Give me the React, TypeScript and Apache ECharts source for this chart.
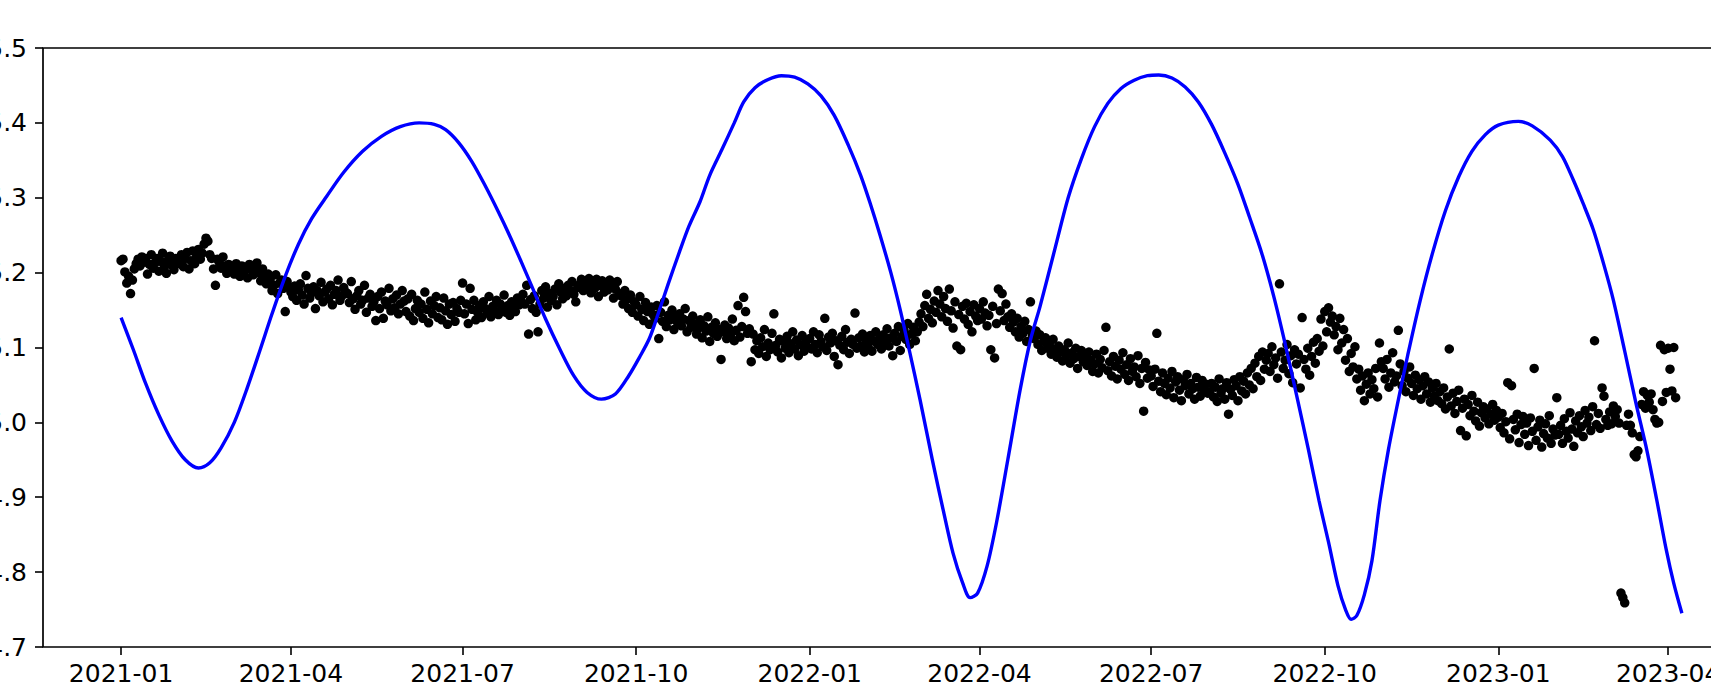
import React, { useEffect, useRef } from "react";
import * as echarts from "echarts";

// Days are counted from 2021-01-01 (day 0). Observations are daily.
const vals2021 = [
  // Jan
  5.216, 5.218, 5.201, 5.186, 5.195, 5.172, 5.19, 5.205, 5.212, 5.218, 5.209, 5.221, 5.214, 5.219, 5.198, 5.211, 5.224, 5.206, 5.213, 5.219, 5.202, 5.215, 5.226, 5.208, 5.199, 5.217, 5.222, 5.21, 5.204, 5.219, 5.213,
  // Feb
  5.212, 5.224, 5.208, 5.219, 5.227, 5.205, 5.216, 5.229, 5.212, 5.221, 5.231, 5.218, 5.226, 5.238, 5.246, 5.242, 5.224, 5.219, 5.205, 5.183, 5.218, 5.214, 5.206, 5.221, 5.209, 5.199, 5.211, 5.204,
  // Mar
  5.207, 5.198, 5.212, 5.203, 5.195, 5.209, 5.201, 5.206, 5.193, 5.211, 5.204, 5.197, 5.207, 5.213, 5.2, 5.189, 5.205, 5.196, 5.185, 5.198, 5.191, 5.176, 5.183, 5.197, 5.172, 5.186, 5.19, 5.179, 5.148, 5.188, 5.181,
  // Apr
  5.174, 5.168, 5.182, 5.163, 5.177, 5.185, 5.17, 5.158, 5.196, 5.179, 5.166, 5.173, 5.181, 5.152, 5.176, 5.169, 5.187, 5.161, 5.174, 5.178, 5.165, 5.183, 5.157, 5.171, 5.176, 5.19, 5.163, 5.169, 5.18, 5.174,
  // May
  5.172, 5.16, 5.188, 5.165, 5.151, 5.169, 5.176, 5.158, 5.163, 5.183, 5.147, 5.166, 5.171, 5.155, 5.161, 5.136, 5.168, 5.152, 5.174, 5.139, 5.162, 5.157, 5.179, 5.149, 5.165, 5.153, 5.17, 5.145, 5.158, 5.176, 5.162,
  // Jun
  5.148, 5.165, 5.142, 5.171, 5.136, 5.152, 5.163, 5.147, 5.158, 5.139, 5.174, 5.151, 5.133, 5.162, 5.145, 5.156, 5.168, 5.14, 5.153, 5.137, 5.166, 5.149, 5.131, 5.158, 5.144, 5.16, 5.135, 5.152, 5.147, 5.163,
  // Jul
  5.186, 5.145, 5.158, 5.132, 5.179, 5.151, 5.163, 5.137, 5.147, 5.156, 5.14, 5.161, 5.152, 5.146, 5.168, 5.141, 5.155, 5.149, 5.163, 5.144, 5.158, 5.151, 5.17, 5.147, 5.156, 5.143, 5.161, 5.153, 5.148, 5.166, 5.157,
  // Aug
  5.162, 5.171, 5.158, 5.183, 5.118, 5.164, 5.152, 5.169, 5.147, 5.121, 5.158, 5.176, 5.166, 5.181, 5.154, 5.172, 5.163, 5.168, 5.178, 5.157, 5.185, 5.174, 5.165, 5.179, 5.169, 5.183, 5.176, 5.188, 5.171, 5.161, 5.18,
  // Sep
  5.184, 5.191, 5.176, 5.188, 5.18, 5.192, 5.173, 5.186, 5.179, 5.191, 5.168, 5.183, 5.189, 5.174, 5.185, 5.177, 5.19, 5.181, 5.166, 5.178, 5.188, 5.172, 5.169, 5.158, 5.176, 5.164, 5.152, 5.17, 5.147, 5.161,
  // Oct
  5.157, 5.142, 5.168, 5.151, 5.136, 5.16, 5.148, 5.131, 5.154, 5.144, 5.139, 5.156, 5.112, 5.147, 5.135, 5.161, 5.128, 5.143, 5.137, 5.15, 5.124, 5.141, 5.133, 5.145, 5.129, 5.138, 5.152, 5.121, 5.136, 5.127, 5.142,
  // Nov
  5.131, 5.118, 5.126, 5.137, 5.113, 5.129, 5.122, 5.141, 5.108, 5.127, 5.119, 5.133, 5.115, 5.124, 5.084, 5.121, 5.13, 5.112, 5.126, 5.117, 5.138, 5.109, 5.123, 5.156, 5.114, 5.128, 5.167, 5.148, 5.119, 5.125,
  // Dec
  5.081, 5.118, 5.097, 5.109, 5.092, 5.113, 5.101, 5.124, 5.088, 5.106, 5.097, 5.119, 5.145, 5.103, 5.094, 5.111, 5.086, 5.108, 5.099, 5.115, 5.093, 5.105, 5.121, 5.098, 5.11, 5.089, 5.104, 5.116, 5.095, 5.107, 5.1,
];

const vals2022 = [
  // Jan
  5.112, 5.098, 5.121, 5.104, 5.093, 5.117, 5.108, 5.101, 5.139, 5.096, 5.114, 5.106, 5.119, 5.088, 5.109, 5.077, 5.103, 5.115, 5.097, 5.124, 5.107, 5.092, 5.111, 5.104, 5.146, 5.099, 5.113, 5.102, 5.118, 5.094, 5.108,
  // Feb
  5.101, 5.116, 5.095, 5.109, 5.121, 5.104, 5.112, 5.098, 5.117, 5.107, 5.125, 5.102, 5.113, 5.089, 5.119, 5.108, 5.128, 5.096, 5.115, 5.123, 5.111, 5.132, 5.104, 5.118, 5.127, 5.109, 5.121, 5.134,
  // Mar
  5.145, 5.128, 5.156, 5.171, 5.139, 5.151, 5.133, 5.162, 5.147, 5.176, 5.158, 5.141, 5.168, 5.152, 5.135, 5.178, 5.149, 5.126, 5.161, 5.102, 5.144, 5.097, 5.155, 5.138, 5.159, 5.131, 5.148, 5.121, 5.157, 5.142, 5.136,
  // Apr
  5.152, 5.138, 5.161, 5.146, 5.129, 5.143, 5.097, 5.155, 5.086, 5.132, 5.178, 5.149, 5.172, 5.136, 5.158, 5.141, 5.127, 5.145, 5.134, 5.121, 5.139, 5.114, 5.128, 5.119, 5.135, 5.108, 5.124, 5.161, 5.116, 5.112,
  // May
  5.122, 5.104, 5.117, 5.096, 5.108, 5.113, 5.099, 5.105, 5.091, 5.111, 5.098, 5.087, 5.102, 5.094, 5.082, 5.097, 5.089, 5.106, 5.079, 5.093, 5.085, 5.099, 5.072, 5.088, 5.096, 5.081, 5.09, 5.076, 5.094, 5.083, 5.068,
  // Jun
  5.078, 5.091, 5.066, 5.084, 5.073, 5.096, 5.127, 5.069, 5.081, 5.062, 5.088, 5.075, 5.058, 5.083, 5.071, 5.093, 5.064, 5.077, 5.056, 5.085, 5.068, 5.074, 5.061, 5.089, 5.052, 5.072, 5.015, 5.08, 5.059, 5.07,
  // Jul
  5.062, 5.048, 5.071, 5.119, 5.055, 5.041, 5.066, 5.052, 5.037, 5.059, 5.046, 5.068, 5.033, 5.054, 5.061, 5.043, 5.029, 5.057, 5.049, 5.064, 5.038, 5.052, 5.045, 5.031, 5.06, 5.047, 5.035, 5.056, 5.042, 5.051, 5.039,
  // Aug
  5.041, 5.052, 5.034, 5.047, 5.028, 5.058, 5.039, 5.045, 5.031, 5.053, 5.011, 5.044, 5.036, 5.057, 5.049, 5.029, 5.061, 5.042, 5.055, 5.038, 5.066, 5.05, 5.072, 5.045, 5.079, 5.061, 5.088, 5.056, 5.094, 5.071, 5.083,
  // Sep
  5.092, 5.068, 5.101, 5.077, 5.086, 5.059, 5.185, 5.094, 5.072, 5.083, 5.104, 5.065, 5.089, 5.053, 5.097, 5.078, 5.091, 5.046, 5.14, 5.084, 5.071, 5.099, 5.063, 5.088, 5.107, 5.079, 5.112, 5.095, 5.138, 5.102,
  // Oct
  5.148, 5.121, 5.153, 5.134, 5.142, 5.117, 5.128, 5.097, 5.139, 5.106, 5.124, 5.083, 5.112, 5.068, 5.092, 5.074, 5.101, 5.058, 5.071, 5.043, 5.062, 5.029, 5.051, 5.066, 5.038, 5.057, 5.045, 5.072, 5.034, 5.106, 5.081,
  // Nov
  5.072, 5.058, 5.084, 5.047, 5.066, 5.093, 5.054, 5.062, 5.123, 5.078, 5.049, 5.068, 5.041, 5.059, 5.074, 5.052, 5.036, 5.063, 5.045, 5.057, 5.031, 5.049, 5.061, 5.038, 5.054, 5.027, 5.046, 5.035, 5.052, 5.029,
  // Dec
  5.041, 5.025, 5.046, 5.018, 5.034, 5.098, 5.022, 5.039, 5.012, 5.028, 5.043, 4.989, 5.019, 5.031, 4.982, 5.024, 5.009, 5.036, 5.015, 5.002, 5.027, 4.995, 5.013, 5.021, 5.006, 5.018, 4.998, 5.011, 5.024, 5.003, 5.016,
];

const vals2023 = [
  // Jan
  5.007, 4.993, 5.012, 4.986, 5.001, 5.053, 4.978, 5.049, 5.004, 4.99, 5.011, 4.973, 4.997, 5.008, 4.984, 4.999, 4.969, 5.006, 4.988, 5.072, 4.976, 4.994, 5.003, 4.967, 4.985, 4.998, 4.979, 5.009, 4.972, 4.991, 4.983,
  // Feb
  5.033, 4.984, 4.996, 4.972, 5.005, 4.988, 4.979, 5.013, 4.991, 4.968, 5.002, 4.986, 5.009, 4.994, 4.981, 5.016, 4.999, 5.007, 4.989, 5.021, 5.109, 4.997, 5.012, 4.992, 5.046, 5.035, 5.004, 4.996,
  // Mar
  5.014, 4.998, 5.022, 5.008, 5.017, 4.999, 4.772, 4.766, 4.759, 4.996, 5.011, 4.996, 4.986, 4.957, 4.954, 4.962, 4.981, 5.024, 5.041, 5.019, 5.036, 5.027, 5.038, 5.017, 5.004, 4.999, 5.0, 5.103, 5.028, 5.097, 5.04,
  // Apr
  5.099, 5.071, 5.042, 5.1, 5.033,
];

// Fitted curve: day offset and value
const lineDays = [
  0, 6.5, 13, 20, 27, 34, 41, 47, 53, 60, 67, 73.7, 80, 87, 94, 101, 109, 118, 128, 138, 148, 158, 166, 172,
  178.8, 186, 193, 200, 206.2, 212, 218.5, 225, 232.7, 240, 247, 254.6, 262, 269, 275, 280, 284, 290, 296, 301,
  306.9, 312, 318.4, 325, 330, 336, 343, 350, 357, 364, 371, 378, 385.5, 392, 397, 402.3, 408, 413, 418, 423.5,
  430, 436, 441, 446, 450, 454, 459, 464, 470, 476.5, 482, 487.1, 495, 502, 509, 516, 523, 530, 537, 544, 550,
  557, 564, 571, 578, 585, 592, 598, 604.6, 611, 617, 623, 629.4, 635, 640, 645, 649, 652, 655, 659, 663, 667.3,
  671.7, 677, 682, 688.6, 695, 702, 709, 716, 723, 730, 740.6, 748, 757.5, 764, 769.7, 775, 780.4, 786, 791, 797,
  803, 808.7, 814, 819, 823, 827.3,
];
const lineVals = [
  5.14, 5.097, 5.052, 5.01, 4.975, 4.95, 4.939, 4.946, 4.966, 5.0, 5.047, 5.097, 5.145, 5.195, 5.238, 5.272, 5.302, 5.334, 5.362, 5.382, 5.395, 5.4, 5.398, 5.391,
  5.374, 5.348, 5.316, 5.281, 5.248, 5.215, 5.177, 5.138, 5.097, 5.062, 5.04, 5.031, 5.038, 5.062, 5.088, 5.112, 5.14, 5.185, 5.228, 5.262,
  5.295, 5.33, 5.364, 5.4, 5.428, 5.447, 5.458, 5.463, 5.461, 5.452, 5.436, 5.41, 5.37, 5.33, 5.293, 5.25, 5.2, 5.15, 5.094, 5.03,
  4.95, 4.88, 4.825, 4.786, 4.766, 4.772, 4.808, 4.866, 4.95, 5.043, 5.11, 5.155, 5.232, 5.3, 5.352, 5.395, 5.426, 5.446, 5.457, 5.463, 5.464,
  5.46, 5.448, 5.428, 5.398, 5.36, 5.318, 5.275, 5.226, 5.168, 5.105, 5.037, 4.963, 4.895, 4.84, 4.782, 4.75, 4.737, 4.742, 4.77, 4.815, 4.896,
  4.963, 5.03, 5.09, 5.163, 5.225, 5.283, 5.328, 5.362, 5.384, 5.397, 5.402, 5.396, 5.377, 5.355, 5.324, 5.292, 5.257, 5.21, 5.163, 5.095,
  5.025, 4.963, 4.896, 4.83, 4.785, 4.745,
];

const tickDays = [0, 90, 181, 273, 365, 455, 546, 638, 730, 820];
const tickLabels = ["2021-01", "2021-04", "2021-07", "2021-10", "2022-01", "2022-04", "2022-07", "2022-10", "2023-01", "2023-04"];

const xMinDay = -41.4;
const xMaxDay = 868.7;

export default function App() {
  const ref = useRef<HTMLDivElement>(null);
  useEffect(() => {
    document.body.style.margin = "0";
    if (!ref.current) return;
    const chart = echarts.init(ref.current, undefined, { renderer: "svg" });
    const obs = [...vals2021, ...vals2022, ...vals2023].map((v, i) => [i, v]);
    const fit = lineDays.map((d, i) => [d, lineVals[i]]);
    const font = "DejaVu Sans";
    chart.setOption({
      animation: false,
      backgroundColor: "#ffffff",
      grid: {
        left: 43,
        top: 48,
        right: -49,
        bottom: 38,
        show: true,
        borderColor: "#000000",
        borderWidth: 1.7,
        containLabel: false,
        outerBoundsMode: "none",
      },
      xAxis: {
        type: "value",
        min: xMinDay,
        max: xMaxDay,
        splitLine: { show: false },
        axisLine: { show: false, onZero: false },
        axisTick: {
          show: true,
          customValues: tickDays,
          length: 8,
          lineStyle: { color: "#000", width: 1.6 },
        },
        axisLabel: {
          customValues: tickDays,
          formatter: (v: number) => {
            const idx = tickDays.indexOf(Math.round(v));
            return idx >= 0 ? tickLabels[idx] : "";
          },
          color: "#000",
          fontFamily: font,
          fontSize: 25,
          margin: 14,
        },
      },
      yAxis: {
        type: "value",
        min: 4.7,
        max: 5.5,
        interval: 0.1,
        splitLine: { show: false },
        axisLine: { show: false, onZero: false },
        axisTick: { show: true, length: 8, lineStyle: { color: "#000", width: 1.6 } },
        axisLabel: {
          formatter: (v: number) => v.toFixed(1),
          color: "#000",
          fontFamily: font,
          fontSize: 25,
          margin: 16,
        },
      },
      series: [
        {
          type: "scatter",
          data: obs,
          symbol: "circle",
          symbolSize: 9.5,
          itemStyle: { color: "#000000", opacity: 1 },
          z: 2,
        },
        {
          type: "line",
          data: fit,
          showSymbol: false,
          smooth: 0.3,
          lineStyle: { color: "#0000ff", width: 3.4 },
          z: 3,
        },
      ],
    });
    return () => chart.dispose();
  }, []);
  return (
    <div
      ref={ref}
      style={{ position: "absolute", left: 0, top: 0, width: 1711, height: 685 }}
    />
  );
}
